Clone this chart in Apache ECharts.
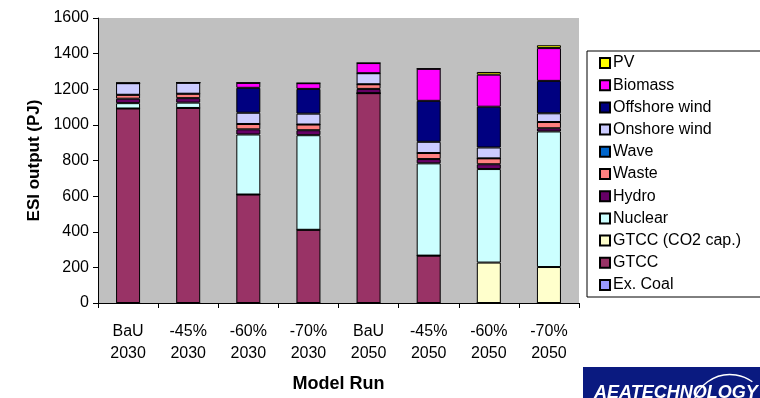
<!DOCTYPE html>
<html>
<head>
<meta charset="utf-8">
<script src="https://cdn.jsdelivr.net/npm/echarts@6/dist/echarts.min.js"></script>
<style>
  html, body { margin: 0; padding: 0; background: #fff; }
  #main { width: 760px; height: 398px; }
</style>
</head>
<body>
<div id="main"></div>
<script>
// model runs
const categories = ['BaU\n2030', '-45%\n2030', '-60%\n2030', '-70%\n2030', 'BaU\n2050', '-45%\n2050', '-60%\n2050', '-70%\n2050'];
const yTicks = [0, 200, 400, 600, 800, 1000, 1200, 1400, 1600];

// ESI output (PJ), stacked bottom to top
const exCoal      = [0, 0, 0, 0, 0, 0, 0, 0];
const gtcc        = [1092, 1095, 609, 411, 1178, 266, 0, 0];
const gtccCapture = [0, 0, 0, 0, 0, 0, 227, 202];
const nuclear     = [30, 30, 337, 531, 0, 518, 525, 761];
const hydro       = [25, 25, 29, 28, 24, 24, 27, 18];
const waste       = [22, 25, 30, 32, 26, 34, 33, 35];
const wave        = [0, 0, 0, 0, 0, 0, 0, 0];
const onshore     = [65, 62, 63, 61, 62, 63, 61, 49];
const offshore    = [0, 0, 140, 139, 0, 230, 229, 182];
const biomass     = [0, 0, 28, 32, 57, 180, 180, 184];
const pv          = [0, 0, 0, 0, 0, 0, 15, 16];

const font = 'Liberation Sans, Arial, sans-serif';

function bar(name, data, color) {
    return {
        name: name,
        type: 'bar',
        stack: 'esi',
        barWidth: 24,
        data: data,
        itemStyle: { color: color, borderColor: '#000', borderWidth: 1 },
        emphasis: { disabled: true }
    };
}

const series = [
    bar('Ex. Coal', exCoal, '#9999FF'),
    bar('GTCC', gtcc, '#993366'),
    bar('GTCC (CO2 cap.)', gtccCapture, '#FFFFCC'),
    bar('Nuclear', nuclear, '#CCFFFF'),
    bar('Hydro', hydro, '#660066'),
    bar('Waste', waste, '#FF8080'),
    bar('Wave', wave, '#0066CC'),
    bar('Onshore wind', onshore, '#CCCCFF'),
    bar('Offshore wind', offshore, '#000080'),
    bar('Biomass', biomass, '#FF00FF'),
    bar('PV', pv, '#FFFF00')
];

const option = {
    animation: false,
    grid: {
        left: 98, right: 181, top: 18, bottom: 93,
        show: true, backgroundColor: '#C0C0C0', borderWidth: 0
    },
    legend: {
        orient: 'vertical',
        left: 587, top: 51,
        data: series.map(s => s.name).reverse(),
        icon: 'rect',
        itemWidth: 10, itemHeight: 10, itemGap: 6.2,
        padding: [4, 40, 4, 12],
        borderColor: '#000', borderWidth: 1,
        backgroundColor: '#fff',
        selectedMode: false,
        textStyle: { fontFamily: font, fontSize: 16, color: '#000', lineHeight: 16, padding: [0, 0, 0, -2] }
    },
    xAxis: {
        type: 'category',
        data: categories,
        name: 'Model Run',
        nameLocation: 'middle',
        nameGap: 72,
        nameTextStyle: { fontFamily: font, fontSize: 18, fontWeight: 'bold', color: '#000' },
        axisLine: { lineStyle: { color: '#000' } },
        axisTick: { show: true, length: 5, lineStyle: { color: '#000' } },
        axisLabel: { fontFamily: font, fontSize: 16, color: '#000', margin: 18, lineHeight: 22 }
    },
    yAxis: {
        type: 'value',
        min: yTicks[0],
        max: yTicks[yTicks.length - 1],
        interval: 200,
        name: 'ESI output (PJ)',
        nameLocation: 'middle',
        nameGap: 55,
        nameTextStyle: { fontFamily: font, fontSize: 17, fontWeight: 'bold', color: '#000' },
        axisLine: { show: true, lineStyle: { color: '#000' } },
        axisTick: { show: true, length: 5, lineStyle: { color: '#000' } },
        splitLine: { show: false },
        axisLabel: { fontFamily: font, fontSize: 16, color: '#000', margin: 9, formatter: v => String(v) }
    },
    graphic: [
        {
            type: 'rect', left: 583, top: 367,
            shape: { width: 180, height: 34 },
            style: { fill: '#0A1A80' }
        },
        {
            type: 'arc', left: 690, top: 372,
            shape: { cx: 40, cy: 40, r: 38, startAngle: Math.PI * 1.05, endAngle: Math.PI * 1.7 },
            style: { stroke: '#fff', lineWidth: 1.5, fill: null }
        },
        {
            type: 'text', left: 594, top: 384,
            style: { text: 'AEATECHNOLOGY', fill: '#fff', font: 'italic bold 18px ' + font }
        }
    ],
    series: series
};

const chart = echarts.init(document.getElementById('main'));
chart.setOption(option);
</script>
</body>
</html>
